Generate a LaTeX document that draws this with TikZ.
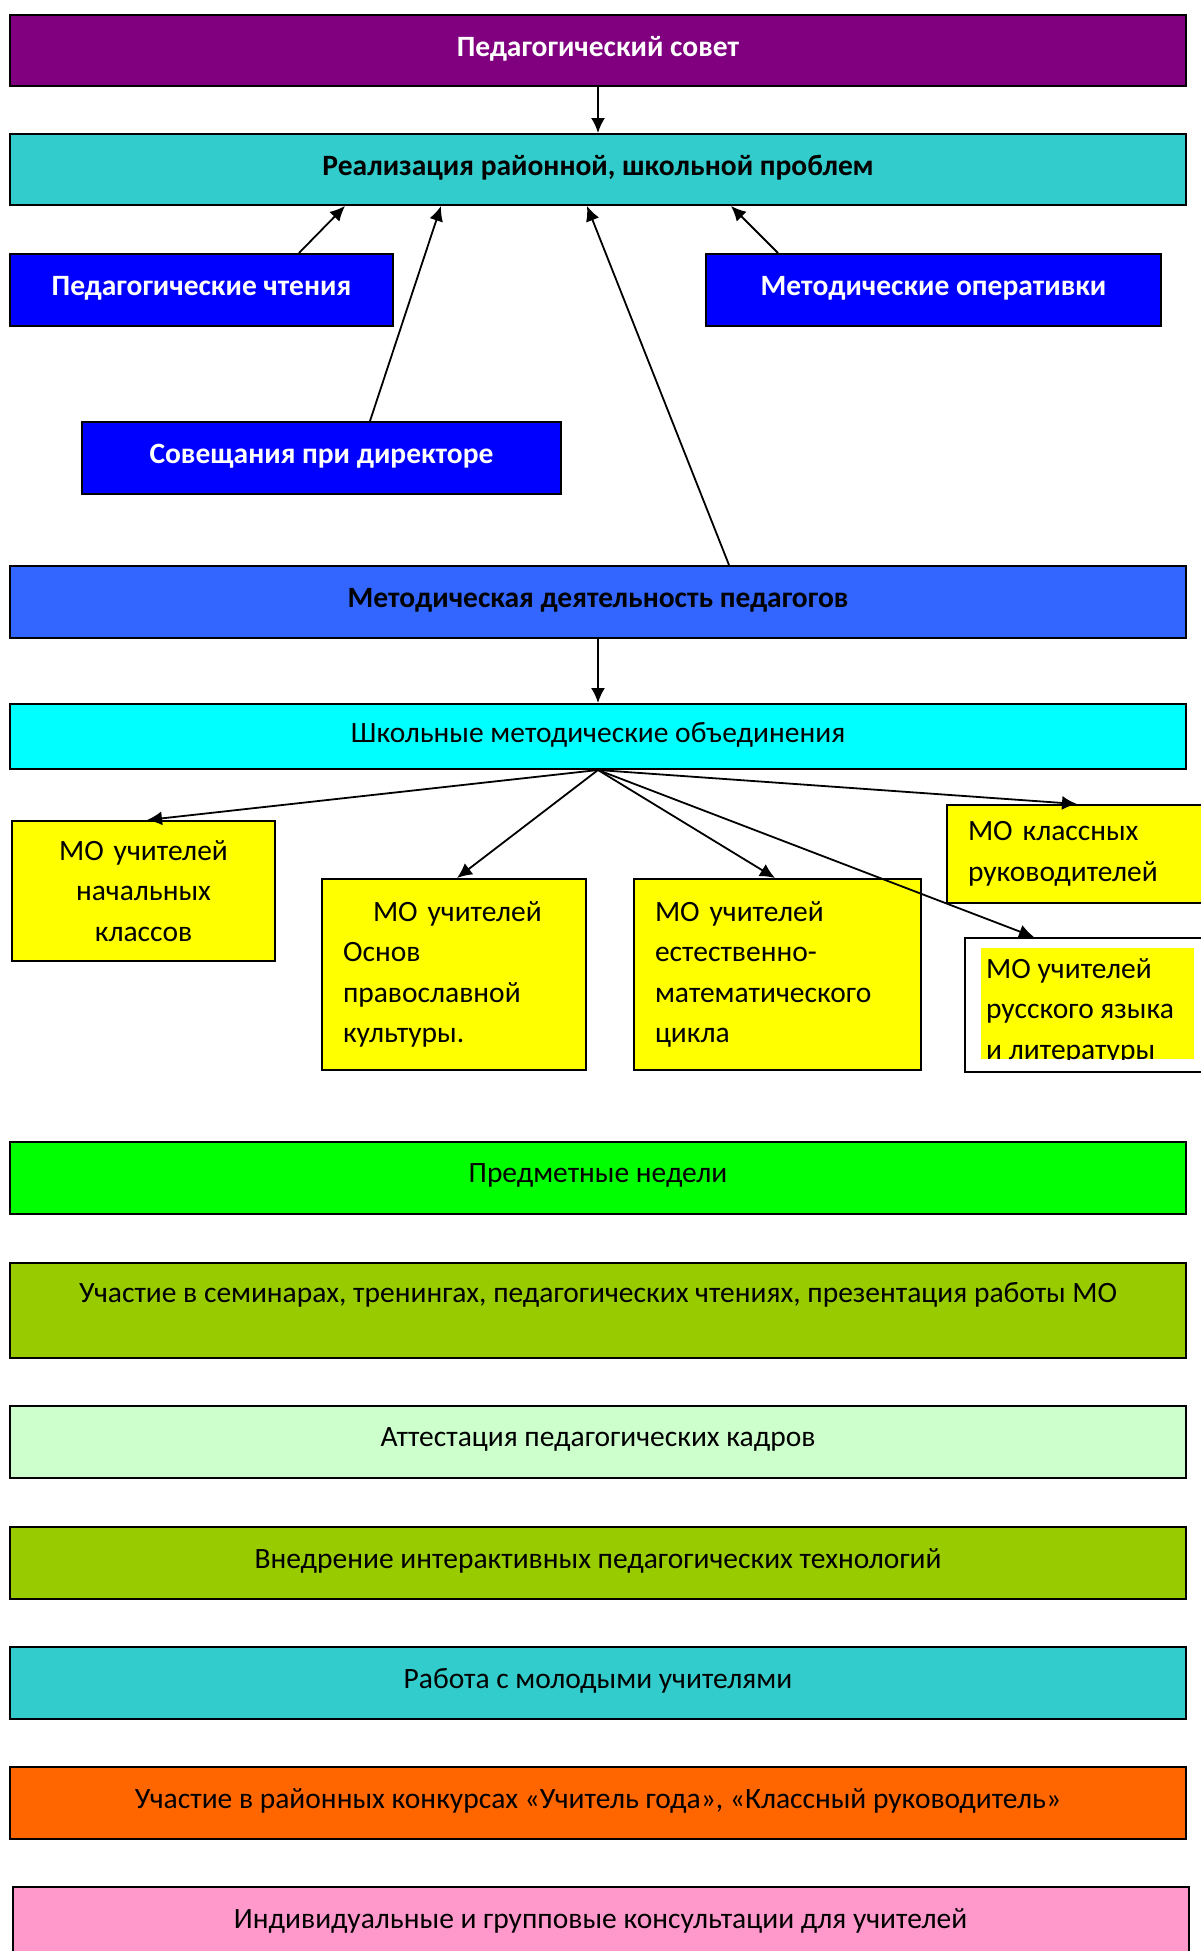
\documentclass[tikz,border=0pt]{standalone}
\usepackage{fontspec}
\setmainfont{Carlito}
\usetikzlibrary{arrows.meta}
\definecolor{sovetpurple}{HTML}{800080}
\definecolor{tealbox}{HTML}{33CCCC}
\definecolor{bluebox}{HTML}{0000FF}
\definecolor{mdblue}{HTML}{3366FF}
\definecolor{cyanbox}{HTML}{00FFFF}
\definecolor{moyellow}{HTML}{FFFF00}
\definecolor{greenbox}{HTML}{00FF00}
\definecolor{olivebox}{HTML}{99CC00}
\definecolor{mintbox}{HTML}{CCFFCC}
\definecolor{orangebox}{HTML}{FF6600}
\definecolor{pinkbox}{HTML}{FF99CC}
\newcommand{\boxfont}{\fontsize{29.5}{40.5}\selectfont}
\begin{document}
\begin{tikzpicture}[x=1pt,y=-1pt,
  box/.style={draw=black,line width=2pt,rectangle,inner sep=0pt,align=center,font=\boxfont},
  oneline/.style={box,minimum height=72pt,text depth=8pt},
  wide/.style={oneline,minimum width=1176pt},
  hd/.style={font=\boxfont\bfseries},
  mo/.style={box,fill=moyellow,align=left,inner xsep=21pt},
  arr/.style={-{Latex[length=15pt,width=14pt]},line width=1.8pt}]
\useasboundingbox (0,0) rectangle (1201,1951);

% upper part
\node (sovet) at (598,50.5) [wide,minimum height=71pt,fill=sovetpurple,text=white,hd] {Педагогический совет};
\node (real) at (598,169.5) [wide,minimum height=71pt,fill=tealbox,hd] {Реализация районной, школьной проблем};
\node (pch) at (201.5,290) [oneline,minimum width=383pt,fill=bluebox,text=white,hd] {Педагогические чтения};
\node (oper) at (933.5,290) [oneline,minimum width=455pt,fill=bluebox,text=white,hd] {Методические оперативки};
\node (sov) at (321.5,458) [oneline,minimum width=479pt,fill=bluebox,text=white,hd] {Совещания при директоре};
\node (md) at (598,602) [wide,fill=mdblue,hd] {Методическая деятельность педагогов};
\node (shmo) at (598,736.5) [wide,minimum height=65pt,fill=cyanbox] {Школьные методические объединения};

\draw [arr] (sovet) -- (real);
\draw [arr] ([xshift=97.5pt]pch.north) -- ([xshift=-253pt]real.south);
\draw [arr] ([xshift=48.5pt]sov.north) -- ([xshift=-157pt]real.south);
\draw [arr] ([xshift=131pt]md.north) -- ([xshift=-11pt]real.south);
\draw [arr] ([xshift=-155.5pt]oper.north) -- ([xshift=133pt]real.south);
\draw [arr] (md) -- (shmo);

% methodical unions
\node (mo1) at (143.5,891) [mo,align=center,text width=221pt,minimum height=140pt] {МО учителей\\начальных\\классов};
\node (mo2) at (454,974.5) [mo,text width=222pt,minimum height=191pt] {\hspace*{30pt}МО учителей\\Основ\\православной\\культуры.};
\node (mo3) at (777.5,974.5) [mo,text width=245pt,minimum height=191pt] {МО учителей\\естественно-\\математического\\цикла};
\node (mo4) at (946,804) [mo,anchor=north west,text width=242pt,minimum height=98pt] {МО классных\\руководителей};
\node (mo5) at (964,937) [box,anchor=north west,fill=white,minimum width=260pt,minimum height=134pt] {};
\begin{scope}
  \clip (981,948) rectangle (1194,1059);
  \fill [moyellow] (981,948) rectangle (1194,1059);
  \node (mo5text) at (986,958) [anchor=north west,align=left,inner sep=0pt,font=\boxfont] {МО учителей\\русского языка\\и литературы};
\end{scope}

\draw [arr] (shmo.south) -- ([xshift=3.5pt]mo1.north);
\draw [arr] (shmo.south) -- ([xshift=3pt]mo2.north);
\draw [arr] (shmo.south) -- ([xshift=-2.5pt]mo3.north);
\draw [arr] (shmo.south) -- ([xshift=131pt]mo4.north west);
\draw [arr] (shmo.south) -- ([xshift=70pt]mo5.north west);

% lower part
\node (pn) at (598,1177.5) [wide,fill=greenbox] {Предметные недели};
\node (uch) at (598,1310.5) [wide,minimum height=95pt,text depth=36pt,fill=olivebox] {Участие в семинарах, тренингах, педагогических чтениях, презентация работы МО};
\node (att) at (598,1441.5) [wide,fill=mintbox] {Аттестация педагогических кадров};
\node (vn) at (598,1562.5) [wide,fill=olivebox] {Внедрение интерактивных педагогических технологий};
\node (rab) at (598,1682.5) [wide,fill=tealbox] {Работа с молодыми учителями};
\node (kon) at (598,1802.5) [wide,fill=orangebox] {Участие в районных конкурсах «Учитель года», «Классный руководитель»};
\node (ind) at (600.5,1923) [wide,fill=pinkbox] {Индивидуальные и групповые консультации для учителей};
\end{tikzpicture}
\end{document}
